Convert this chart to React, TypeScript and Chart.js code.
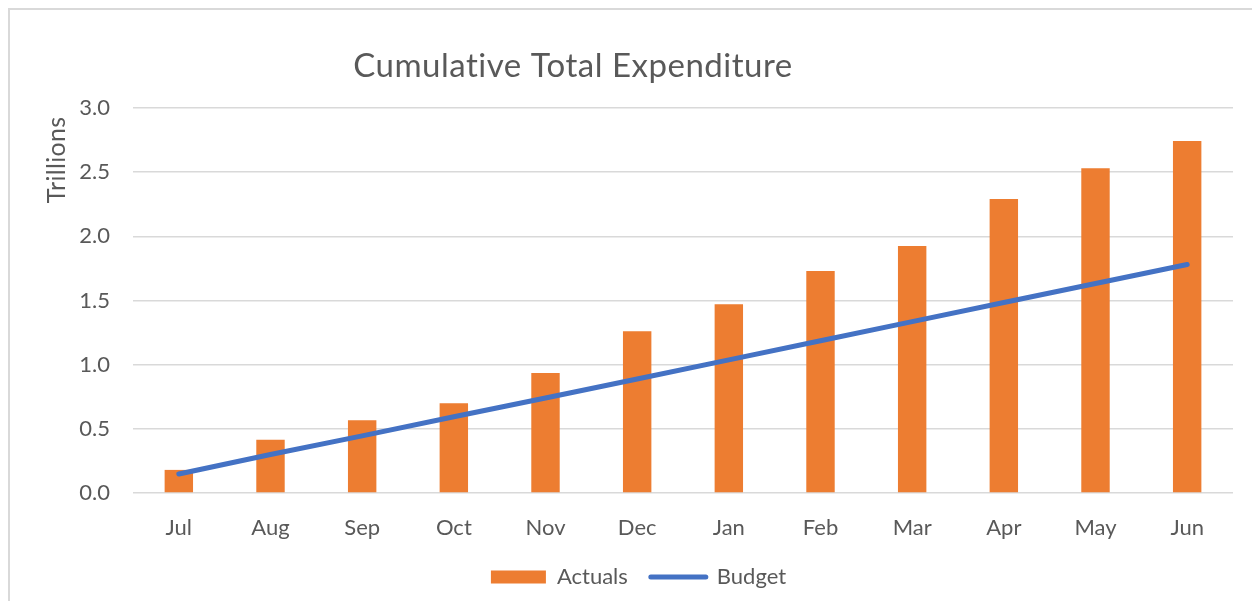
import React, { useEffect, useRef } from "react";
import { Chart, registerables } from "chart.js";

Chart.register(...registerables);

const categories = ["Jul", "Aug", "Sep", "Oct", "Nov", "Dec", "Jan", "Feb", "Mar", "Apr", "May", "Jun"];
const actuals = [0.18, 0.415, 0.566, 0.70, 0.935, 1.26, 1.47, 1.73, 1.925, 2.29, 2.53, 2.743];
const budget = [0.148, 0.30, 0.445, 0.594, 0.74, 0.888, 1.037, 1.186, 1.335, 1.484, 1.633, 1.78];
const yTicks = [0, 0.5, 1.0, 1.5, 2.0, 2.5, 3.0];

const TITLE = "Cumulative Total Expenditure";
const Y_TITLE = "Trillions";
const TEXT = "#595959";
const FONT = "Lato";

const titlesPlugin = {
  id: "customTitles",
  afterLayout(chart: any) {
    const lg = chart.legend;
    if (lg) {
      lg.left += 17;
      lg.right += 17;
    }
  },
  afterDraw(chart: any) {
    const { ctx, chartArea } = chart;
    ctx.save();
    ctx.fillStyle = TEXT;
    try {
      (ctx as any).letterSpacing = "0.5px";
    } catch (e) {}
    ctx.font = `33px ${FONT}`;
    ctx.textAlign = "center";
    ctx.textBaseline = "alphabetic";
    ctx.fillText(TITLE, chartArea.left + 440, chartArea.top - 31);
    ctx.translate(chartArea.left - 76, chartArea.top + 52);
    ctx.rotate(-Math.PI / 2);
    try {
      (ctx as any).letterSpacing = "0.3px";
    } catch (e) {}
    ctx.font = `25px ${FONT}`;
    ctx.textBaseline = "middle";
    ctx.fillText(Y_TITLE, 0, 0);
    ctx.restore();
  },
};

export default function App() {
  const ref = useRef<HTMLCanvasElement>(null);
  useEffect(() => {
    if (!ref.current) return;
    const chart = new Chart(ref.current, {
      type: "bar",
      data: {
        labels: categories,
        datasets: [
          {
            type: "bar",
            label: "Actuals",
            data: actuals,
            backgroundColor: "#ED7D31",
            borderWidth: 0,
            categoryPercentage: 1,
            barPercentage: 0.31,
            order: 1,
          },
          {
            type: "line",
            label: "Budget",
            data: budget,
            borderColor: "#4472C4",
            backgroundColor: "#4472C4",
            borderWidth: 5,
            borderCapStyle: "round",
            pointRadius: 0,
            pointHoverRadius: 0,
            tension: 0,
            order: 0,
          } as any,
        ],
      },
      options: {
        animation: false,
        responsive: true,
        maintainAspectRatio: false,
        layout: { padding: { left: 0, right: 19, top: 98, bottom: 3 } },
        plugins: {
          title: { display: false },
          tooltip: { enabled: false },
          legend: {
            position: "bottom",
            labels: {
              usePointStyle: true,
              pointStyleWidth: 55,
              boxHeight: 13,
              padding: 23,
              color: TEXT,
              font: { family: FONT, size: 22 },
              generateLabels(c: any) {
                return c.data.datasets.map((ds: any, i: number) => ({
                  text: ds.label,
                  fillStyle: ds.backgroundColor,
                  strokeStyle: ds.type === "line" ? ds.borderColor : ds.backgroundColor,
                  lineWidth: ds.type === "line" ? 5 : 0,
                  lineCap: "round",
                  pointStyle: ds.type === "line" ? "line" : "rect",
                  fontColor: TEXT,
                  hidden: false,
                  datasetIndex: i,
                }));
              },
            },
          },
        },
        scales: {
          x: {
            grid: { display: false },
            border: { display: false },
            ticks: { color: TEXT, font: { family: FONT, size: 22 }, padding: 14 },
            afterFit(scale: any) {
              scale.height = 50;
            },
          },
          y: {
            min: 0,
            max: 3,
            afterBuildTicks(scale: any) {
              scale.ticks = yTicks.map((v) => ({ value: v }));
            },
            grid: { color: "#d9d9d9", lineWidth: 1.5, drawTicks: false },
            border: { display: false },
            ticks: {
              color: TEXT,
              font: { family: FONT, size: 22 },
              padding: 23,
              callback: (v: any) => Number(v).toFixed(1),
            },
            afterFit(scale: any) {
              scale.width = 123;
            },
          },
        },
      },
      plugins: [titlesPlugin],
    });
    return () => chart.destroy();
  }, []);

  return (
    <div
      style={{
        width: 1244,
        height: 593,
        boxSizing: "border-box",
        borderLeft: "2px solid #d9d9d9",
        borderTop: "2px solid #d9d9d9",
        background: "#fff",
      }}
    >
      <div style={{ position: "relative", width: 1242, height: 591 }}>
        <canvas ref={ref} />
      </div>
    </div>
  );
}
